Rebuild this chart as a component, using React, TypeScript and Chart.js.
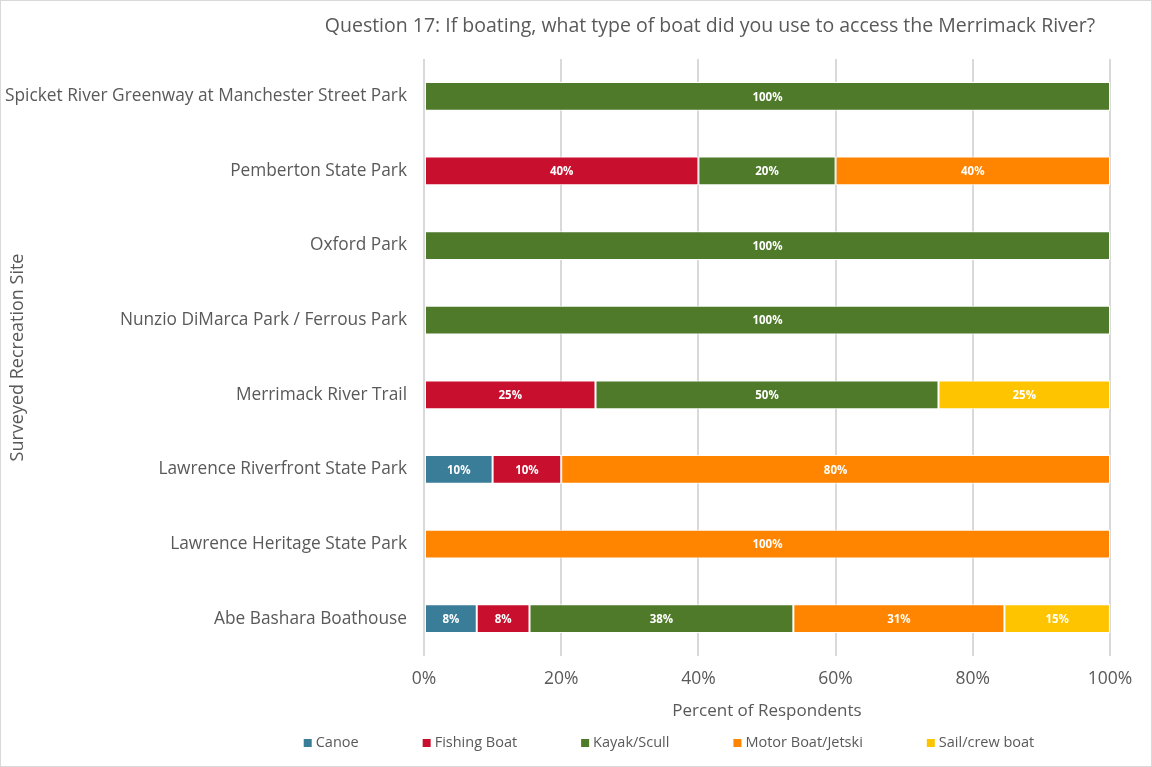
import React, { useEffect, useRef } from "react";
import { Chart, registerables } from "chart.js";

Chart.register(...registerables);

const categories = [
  "Spicket River Greenway at Manchester Street Park",
  "Pemberton State Park",
  "Oxford Park",
  "Nunzio DiMarca Park / Ferrous Park",
  "Merrimack River Trail",
  "Lawrence Riverfront State Park",
  "Lawrence Heritage State Park",
  "Abe Bashara Boathouse",
];

const canoe = [null, null, null, null, null, 10, null, 7.69];
const fishingBoat = [null, 40, null, null, 25, 10, null, 7.69];
const kayakScull = [100, 20, 100, 100, 50, null, null, 38.46];
const motorBoatJetski = [null, 40, null, null, null, 80, 100, 30.77];
const sailCrewBoat = [null, null, null, null, 25, null, null, 15.38];

const xTicks = [0, 20, 40, 60, 80, 100];

const titleText = "Question 17: If boating, what type of boat did you use to access the Merrimack River?";
const xTitle = "Percent of Respondents";
const yTitle = "Surveyed Recreation Site";

const FONT = "'Open Sans', 'Noto Sans', sans-serif";
const TEXT = "#595959";

const seriesDefs = [
  { label: "Canoe", data: canoe, color: "#3A7D98" },
  { label: "Fishing Boat", data: fishingBoat, color: "#C8102E" },
  { label: "Kayak/Scull", data: kayakScull, color: "#4E7A2A" },
  { label: "Motor Boat/Jetski", data: motorBoatJetski, color: "#FF8400" },
  { label: "Sail/crew boat", data: sailCrewBoat, color: "#FFC400" },
];

const labelsPlugin = {
  id: "segLabels",
  afterDatasetsDraw(chart: any) {
    const ctx = chart.ctx;
    ctx.save();
    ctx.fillStyle = "#ffffff";
    ctx.font = `bold 11.5px ${FONT}`;
    ctx.textAlign = "center";
    ctx.textBaseline = "middle";
    chart.data.datasets.forEach((ds: any, i: number) => {
      const meta = chart.getDatasetMeta(i);
      meta.data.forEach((el: any, j: number) => {
        const v = ds.data[j];
        if (v == null) return;
        const x = (el.x + el.base) / 2;
        ctx.fillText(Math.round(v) + "%", x, el.y + 1);
      });
    });
    ctx.restore();
  },
};

const titleLegendPlugin = {
  id: "titleLegend",
  afterDraw(chart: any) {
    const ctx = chart.ctx;
    ctx.save();
    ctx.fillStyle = TEXT;
    ctx.font = `19.5px ${FONT}`;
    ctx.textAlign = "center";
    ctx.textBaseline = "middle";
    ctx.fillText(titleText, 709, 25);
    ctx.font = `14.5px ${FONT}`;
    ctx.textAlign = "left";
    const box = 8;
    const gapBox = 4;
    const gapItem = 64;
    const widths = chart.data.datasets.map((d: any) => box + gapBox + ctx.measureText(d.label).width);
    const total = widths.reduce((a: number, b: number) => a + b, 0) + gapItem * (widths.length - 1);
    let x = 668 - total / 2;
    const y = 742;
    chart.data.datasets.forEach((d: any, i: number) => {
      ctx.fillStyle = d.backgroundColor;
      ctx.fillRect(x, y - box / 2, box, box);
      ctx.fillStyle = TEXT;
      ctx.fillText(d.label, x + box + gapBox, y);
      x += widths[i] + gapItem;
    });
    ctx.restore();
  },
};

export default function App() {
  const ref = useRef<HTMLCanvasElement | null>(null);
  useEffect(() => {
    document.body.style.margin = "0";
    const chart = new Chart(ref.current as HTMLCanvasElement, {
      type: "bar",
      data: {
        labels: categories,
        datasets: seriesDefs.map((s) => ({
          label: s.label,
          data: s.data as any,
          backgroundColor: s.color,
          borderColor: "#ffffff",
          borderWidth: 1,
          borderSkipped: false,
          categoryPercentage: 1,
          barPercentage: 0.385,
        })),
      },
      options: {
        indexAxis: "y",
        animation: false,
        responsive: false,
        layout: { padding: { left: 0, right: 41, top: 58, bottom: 30 } },
        plugins: {
          legend: { display: false },
          title: { display: false },
          tooltip: { enabled: false },
        },
        scales: {
          x: {
            stacked: true,
            min: 0,
            max: 100,
            afterBuildTicks: (scale: any) => {
              scale.ticks = xTicks.map((v) => ({ value: v }));
            },
            afterFit: (scale: any) => {
              scale.height = 80;
            },
            grid: { color: "#d9d9d9", lineWidth: 2, drawTicks: false },
            border: { display: false },
            ticks: {
              color: TEXT,
              font: { family: FONT, size: 17.5 },
              padding: 13,
              callback: (v: any) => v + "%",
            },
            title: {
              display: true,
              text: xTitle,
              color: TEXT,
              font: { family: FONT, size: 17 },
              padding: { top: 0, bottom: 15 },
            },
          },
          y: {
            stacked: true,
            afterFit: (scale: any) => {
              scale.width = 423;
            },
            grid: { display: false, drawTicks: false },
            border: { display: false },
            ticks: {
              color: TEXT,
              font: { family: FONT, size: 17.3 },
              padding: 17,
            },
            title: {
              display: true,
              text: yTitle,
              color: TEXT,
              font: { family: FONT, size: 18 },
              padding: { top: 6, bottom: 0 },
            },
          },
        },
      },
      plugins: [labelsPlugin, titleLegendPlugin],
    });
    return () => chart.destroy();
  }, []);
  return (
    <div
      style={{
        position: "absolute",
        left: 0,
        top: 0,
        width: 1152,
        height: 767,
        border: "1px solid #d9d9d9",
        boxSizing: "border-box",
        background: "#fff",
      }}
    >
      <canvas ref={ref} width={1150} height={765} style={{ display: "block" }} />
    </div>
  );
}
